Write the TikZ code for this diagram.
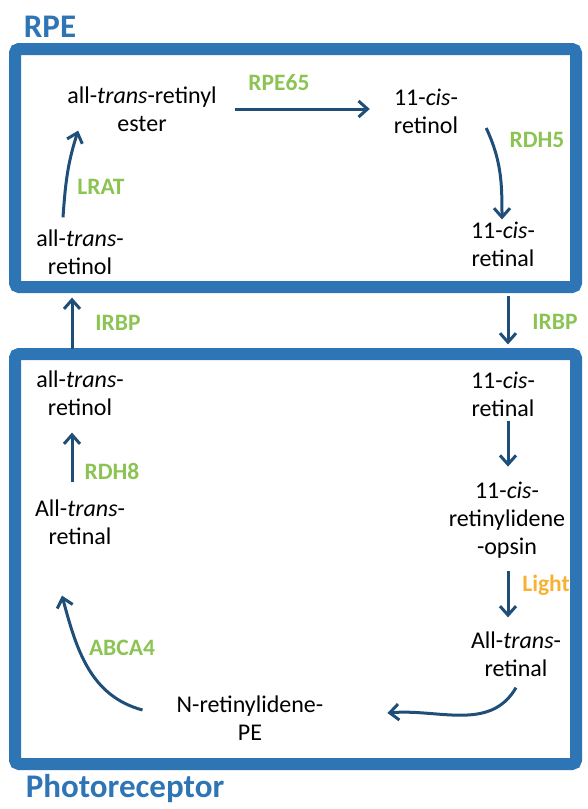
\documentclass[tikz,border=0pt]{standalone}
\usepackage{fontspec}
\setmainfont{Carlito}
\usepackage{tikz}
\usetikzlibrary{arrows.meta}

\definecolor{boxblue}{RGB}{46,117,182}
\definecolor{arrowblue}{RGB}{31,78,121}
\definecolor{enzgreen}{RGB}{140,196,84}
\definecolor{lightorange}{RGB}{247,178,52}

\tikzset{
	txt/.style={align=center, font=\fontsize{24}{28}\selectfont, inner sep=2pt},
	enz/.style={font=\fontsize{23.5}{27}\selectfont\bfseries, text=enzgreen, inner sep=1pt},
	flow/.style={draw=arrowblue, line width=3pt, -{Straight Barb[length=9pt,width=16pt]}},
	cell/.style={draw=boxblue, line width=12pt, rounded corners=4pt},
	title/.style={font=\fontsize{33}{36}\selectfont\bfseries, text=boxblue, inner sep=1pt}
}

\begin{document}
\begin{tikzpicture}[x=1pt, y=1pt]
	\useasboundingbox (0,0) rectangle (588,-809);
	%
	\draw [cell] (15,-49) rectangle (576,-287);
	\draw [cell] (15,-354) rectangle (576,-764);
	\node [title] (rpe) at (50,-27) {RPE};
	\node [title] (photo) at (125,-789) {Photoreceptor};
	%
	\node [txt] (aester) at (142,-109) {all-\textit{trans}-retinyl\\ester};
	\node [txt] (cisol) at (426,-111) {11-\textit{cis}-\\retinol};
	\node [txt] (cisal) at (503,-244) {11-\textit{cis}-\\retinal};
	\node [txt] (atrol) at (80,-252) {all-\textit{trans}-\\retinol};
	\node [enz] (rpe65) at (279,-83) {RPE65};
	\node [enz] (rdh5) at (537,-140) {RDH5};
	\node [enz] (lrat) at (101,-187) {LRAT};
	\node [enz] (irbpl) at (118,-323) {IRBP};
	\node [enz] (irbpr) at (555,-322) {IRBP};
	%
	\node [txt] (patrol) at (80,-393) {all-\textit{trans}-\\retinol};
	\node [txt] (patral) at (80,-522) {All-\textit{trans}-\\retinal};
	\node [txt] (pcisal) at (503,-394) {11-\textit{cis}-\\retinal};
	\node [txt] (opsin) at (507,-520) {11-\textit{cis}-\\retinylidene\\-opsin};
	\node [txt] (pall) at (516,-654) {All-\textit{trans}-\\retinal};
	\node [txt] (npe) at (250,-718) {N-retinylidene-\\PE};
	\node [enz] (rdh8) at (112,-471) {RDH8};
	\node [enz] (abca4) at (122,-648) {ABCA4};
	\node [enz, text=lightorange] (light) at (546,-585) {Light};
	%
	\draw [flow, shorten <=16pt, shorten >=22pt] (aester.east) -- (aester.east -| cisol.west);
	\draw [flow] ([xshift=26pt,yshift=-17pt]cisol.east) to [out=-65, in=90] ([xshift=-1pt]cisal.north);
	\draw [flow] ([xshift=-17pt,yshift=10pt]atrol.north) to [out=86, in=-108] ([xshift=13pt,yshift=3pt]aester.south west);
	\draw [flow, shorten <=19pt, shorten >=21pt] ([xshift=-8pt]patrol.north) -- ([xshift=-8pt]atrol.south);
	\draw [flow, shorten <=27pt, shorten >=25pt] ([xshift=5pt]cisal.south) -- ([xshift=5pt]pcisal.north);
	%
	\draw [flow, shorten <=15pt, shorten >=15pt] ([xshift=-8pt]patral.north) -- ([xshift=-8pt]patrol.south);
	\draw [flow, shorten <=2pt, shorten >=13pt] ([xshift=5pt]pcisal.south) -- ([xshift=5pt]pcisal.south |- opsin.north);
	\draw [flow, shorten <=11pt, shorten >=12pt] ([xshift=1pt]opsin.south) -- ([xshift=1pt]opsin.south |- pall.north);
	\draw [flow] ([yshift=-9pt]pall.south) to [out=-120, in=5] ([xshift=62pt,yshift=5pt]npe.east);
	\draw [flow] ([xshift=-32pt,yshift=8pt]npe.west) to [out=165, in=-75] ([xshift=-18pt,yshift=-49pt]patral.south);
\end{tikzpicture}
\end{document}
